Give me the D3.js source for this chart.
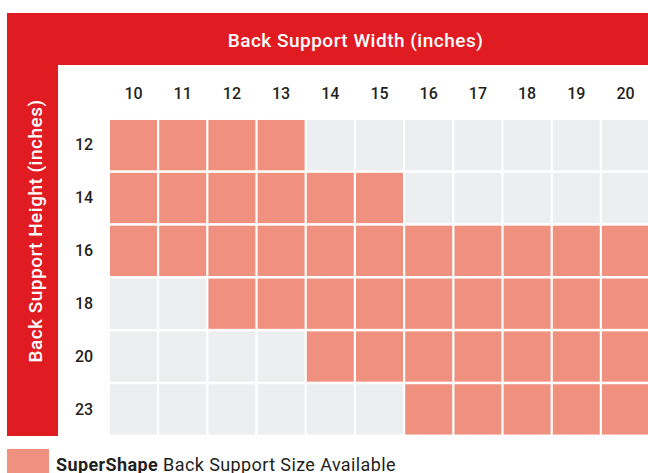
<!DOCTYPE html>
<html>
<head>
<meta charset="utf-8">
<script src="https://cdn.jsdelivr.net/npm/d3@7"></script>
<style>
  html, body { margin: 0; padding: 0; background: #ffffff; }
  svg { display: block; }
  text { font-family: Roboto, "Open Sans", sans-serif; }
</style>
</head>
<body>
<svg id="chart" width="648" height="473"></svg>
<script>
// Data
const widths = [10, 11, 12, 13, 14, 15, 16, 17, 18, 19, 20];
const heights = [12, 14, 16, 18, 20, 23];
// available width range [min, max] for each height (inclusive)
const availableMin = [10, 10, 10, 12, 14, 16];
const availableMax = [13, 15, 20, 20, 20, 20];
const xTitle = "Back Support Width (inches)";
const yTitle = "Back Support Height (inches)";
const legendBold = "SuperShape";
const legendRest = " Back Support Size Available";

const RED = "#e01b22", SALMON = "#f0917f", GREY = "#edeef0", INK = "#231f20";

const svg = d3.select("#chart");

const x = d3.scaleBand().domain(widths).range([108.9, 650.1]).paddingInner(0.045).paddingOuter(0.0225);
const y = d3.scaleBand().domain(heights).range([118.7, 435.8]).paddingInner(0.048).paddingOuter(0.024);

// Red frame bands
svg.append("rect").attr("x", 7).attr("y", 13).attr("width", 641).attr("height", 52).attr("fill", RED);
svg.append("rect").attr("x", 7).attr("y", 13).attr("width", 51).attr("height", 423).attr("fill", RED);

// Titles
svg.append("text").attr("x", 355.5).attr("y", 40).attr("text-anchor", "middle")
  .attr("dominant-baseline", "central").attr("fill", "#fff")
  .attr("font-size", 19).attr("font-weight", 500).attr("letter-spacing", 0.5).text(xTitle);
svg.append("text").attr("transform", "translate(35,231) rotate(-90)").attr("text-anchor", "middle")
  .attr("dominant-baseline", "central").attr("fill", "#fff")
  .attr("font-size", 19).attr("font-weight", 500).attr("letter-spacing", 0.5).text(yTitle);

// Cells
const cells = [];
heights.forEach((h, i) => widths.forEach(w => {
  cells.push({ h, w, on: w >= availableMin[i] && w <= availableMax[i] });
}));
svg.append("g").selectAll("rect").data(cells).join("rect")
  .attr("x", d => x(d.w)).attr("y", d => y(d.h))
  .attr("width", x.bandwidth()).attr("height", y.bandwidth())
  .attr("fill", d => d.on ? SALMON : GREY);

// Axes (labels only)
const xAxis = svg.append("g").attr("transform", "translate(0,93)")
  .call(d3.axisTop(x).tickSize(0).tickPadding(0));
xAxis.select(".domain").remove();
xAxis.selectAll("text").attr("dy", "0.35em").attr("font-size", 16).attr("font-weight", 500)
  .attr("fill", INK).style("font-family", "Roboto, sans-serif");

const yAxis = svg.append("g").attr("transform", "translate(84,0)")
  .call(d3.axisLeft(y).tickSize(0).tickPadding(0));
yAxis.select(".domain").remove();
yAxis.selectAll("text").attr("text-anchor", "middle").attr("font-size", 16).attr("font-weight", 500)
  .attr("fill", INK).style("font-family", "Roboto, sans-serif");

// Legend
svg.append("rect").attr("x", 7).attr("y", 449).attr("width", 42).attr("height", 30).attr("fill", SALMON);
const lt = svg.append("text").attr("x", 56).attr("y", 470.5).attr("font-size", 18)
  .attr("letter-spacing", 0.4).attr("fill", INK);
lt.append("tspan").attr("font-weight", 700).text(legendBold);
lt.append("tspan").text(legendRest);
</script>
</body>
</html>
